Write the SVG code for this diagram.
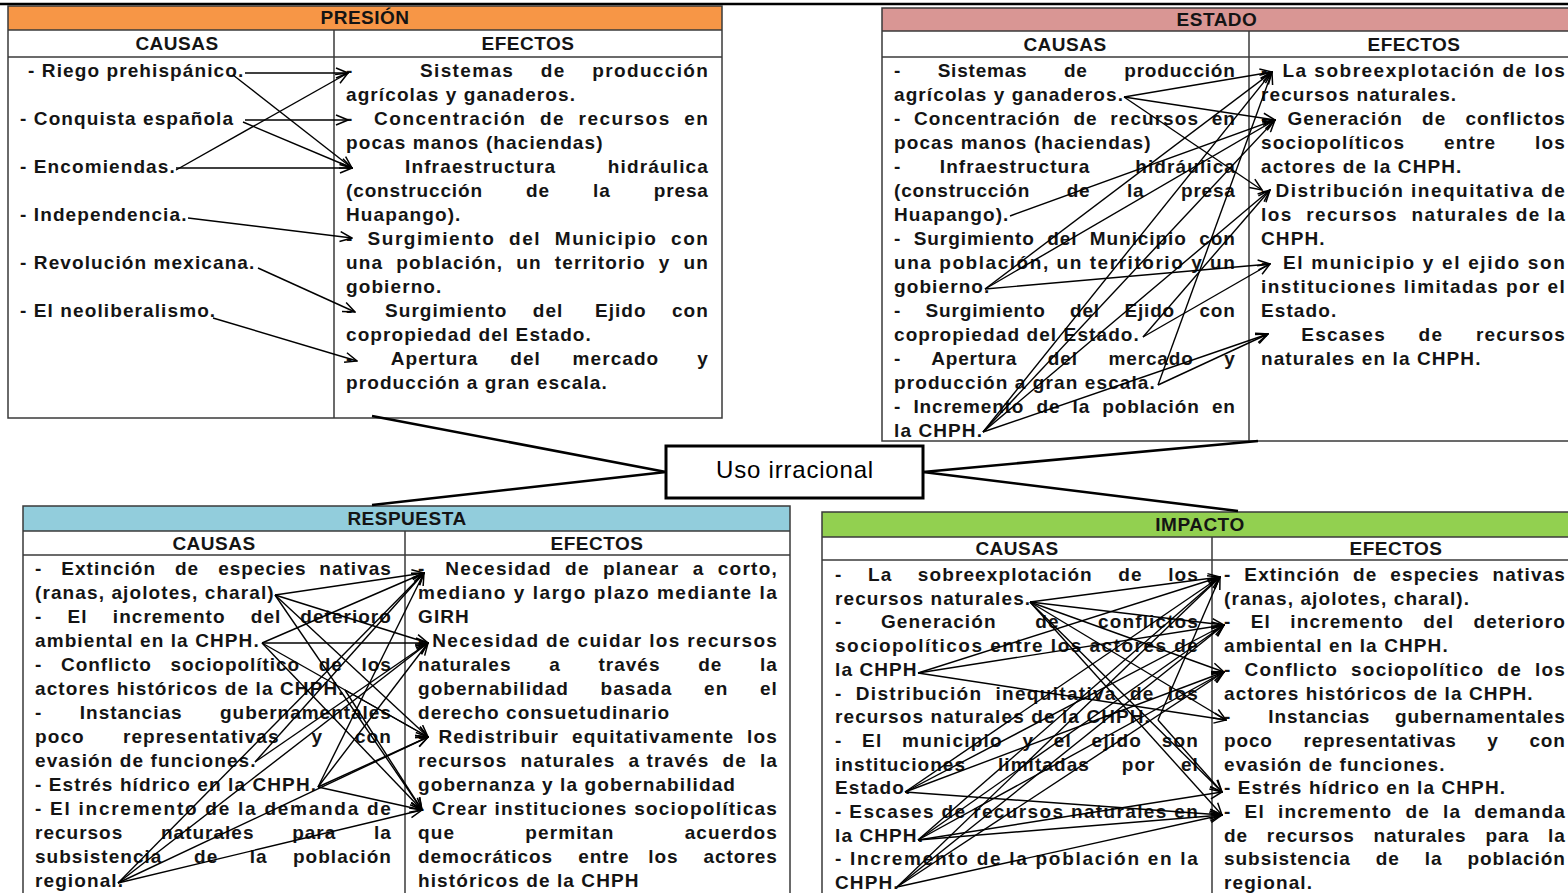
<svg xmlns="http://www.w3.org/2000/svg" width="1568" height="893" viewBox="0 0 1568 893">
<style>
.b{font-family:"Liberation Sans",Arial,sans-serif;font-weight:bold;font-size:19px;letter-spacing:1.1px;fill:#141414;white-space:pre}
.h{font-family:"Liberation Sans",Arial,sans-serif;font-weight:bold;font-size:19px;letter-spacing:0.5px;fill:#141414}
.bd{fill:none;stroke:#3a3a3a;stroke-width:1.5}
.ln{stroke:#3a3a3a;stroke-width:1.5}
.c{stroke:#000;stroke-width:1.4;fill:none;marker-end:url(#ah)}
.k{stroke:#000;stroke-width:2.6;fill:none}
</style>
<defs>
<marker id="ah" viewBox="0 0 14 12" refX="13" refY="6" markerWidth="14" markerHeight="12" markerUnits="userSpaceOnUse" orient="auto"><path d="M1,1 L13,6 L1,11" fill="none" stroke="#000" stroke-width="1.5"/></marker>
</defs>
<rect width="1568" height="893" fill="#fff"/>
<line x1="0" y1="4" x2="1568" y2="4" stroke="#000" stroke-width="2.5"/>

<g id="presion">
<rect x="8" y="6" width="714" height="24" fill="#F79646"/>
<rect x="8" y="6" width="714" height="412" class="bd"/>
<line x1="8" y1="30" x2="722" y2="30" class="ln"/>
<line x1="8" y1="57" x2="722" y2="57" class="ln"/>
<line x1="334" y1="30" x2="334" y2="418" class="ln"/>
<text class="h" x="365" y="24" text-anchor="middle">PRESIÓN</text>
<text class="h" x="177" y="50" text-anchor="middle">CAUSAS</text>
<text class="h" x="528" y="50" text-anchor="middle">EFECTOS</text>
<text class="b" x="28" y="77">- Riego prehispánico.</text>
<text class="b" x="20" y="125">- Conquista española</text>
<text class="b" x="20" y="173">- Encomiendas.</text>
<text class="b" x="20" y="221">- Independencia.</text>
<text class="b" x="20" y="269">- Revolución mexicana.</text>
<text class="b" x="20" y="317">- El neoliberalismo.</text>
<text class="b" xml:space="preserve" x="346" y="77" textLength="363" lengthAdjust="spacing">-          Sistemas    de    producción</text>
<text class="b" x="346" y="101">agrícolas y ganaderos.</text>
<text class="b" xml:space="preserve" x="346" y="125" textLength="363" lengthAdjust="spacing">-   Concentración  de  recursos  en</text>
<text class="b" x="346" y="149">pocas manos (haciendas)</text>
<text class="b" xml:space="preserve" x="346" y="173" textLength="363" lengthAdjust="spacing">-        Infraestructura        hidráulica</text>
<text class="b" xml:space="preserve" x="346" y="197" textLength="363" lengthAdjust="spacing">(construcción       de       la       presa</text>
<text class="b" x="346" y="221">Huapango).</text>
<text class="b" xml:space="preserve" x="346" y="245" textLength="363" lengthAdjust="spacing">-  Surgimiento  del  Municipio  con</text>
<text class="b" xml:space="preserve" x="346" y="269" textLength="363" lengthAdjust="spacing">una  población,  un  territorio  y  un</text>
<text class="b" x="346" y="293">gobierno.</text>
<text class="b" xml:space="preserve" x="346" y="317" textLength="363" lengthAdjust="spacing">-     Surgimiento    del     Ejido    con</text>
<text class="b" x="346" y="341">copropiedad del Estado.</text>
<text class="b" xml:space="preserve" x="346" y="365" textLength="363" lengthAdjust="spacing">-      Apertura     del     mercado      y</text>
<text class="b" x="346" y="389">producción a gran escala.</text>
</g>

<g id="estado">
<rect x="882" y="8" width="698" height="23" fill="#D99694"/>
<rect x="882" y="8" width="698" height="433" class="bd"/>
<line x1="882" y1="31" x2="1580" y2="31" class="ln"/>
<line x1="882" y1="57" x2="1580" y2="57" class="ln"/>
<line x1="1249" y1="31" x2="1249" y2="441" class="ln"/>
<text class="h" x="1217" y="26" text-anchor="middle">ESTADO</text>
<text class="h" x="1065" y="51" text-anchor="middle">CAUSAS</text>
<text class="h" x="1414" y="51" text-anchor="middle">EFECTOS</text>
<text class="b" xml:space="preserve" x="894" y="77" textLength="342" lengthAdjust="spacing">-      Sistemas      de      producción</text>
<text class="b" x="894" y="101">agrícolas y ganaderos.</text>
<text class="b" xml:space="preserve" x="894" y="125" textLength="342" lengthAdjust="spacing">-  Concentración  de  recursos  en</text>
<text class="b" x="894" y="149">pocas manos (haciendas)</text>
<text class="b" xml:space="preserve" x="894" y="173" textLength="342" lengthAdjust="spacing">-      Infraestructura       hidráulica</text>
<text class="b" xml:space="preserve" x="894" y="197" textLength="342" lengthAdjust="spacing">(construcción      de      la      presa</text>
<text class="b" x="894" y="221">Huapango).</text>
<text class="b" xml:space="preserve" x="894" y="245" textLength="342" lengthAdjust="spacing">-  Surgimiento  del  Municipio  con</text>
<text class="b" xml:space="preserve" x="894" y="269" textLength="342" lengthAdjust="spacing">una población, un territorio y un</text>
<text class="b" x="894" y="293">gobierno.</text>
<text class="b" xml:space="preserve" x="894" y="317" textLength="342" lengthAdjust="spacing">-    Surgimiento    del    Ejido    con</text>
<text class="b" x="894" y="341">copropiedad del Estado.</text>
<text class="b" xml:space="preserve" x="894" y="365" textLength="342" lengthAdjust="spacing">-     Apertura     del     mercado     y</text>
<text class="b" x="894" y="389">producción a gran escala.</text>
<text class="b" xml:space="preserve" x="894" y="413" textLength="342" lengthAdjust="spacing">-  Incremento  de  la  población  en</text>
<text class="b" x="894" y="437">la CHPH.</text>
<text class="b" xml:space="preserve" x="1261" y="77" textLength="305" lengthAdjust="spacing">-  La sobreexplotación de los</text>
<text class="b" x="1261" y="101">recursos naturales.</text>
<text class="b" xml:space="preserve" x="1261" y="125" textLength="305" lengthAdjust="spacing">-   Generación   de   conflictos</text>
<text class="b" xml:space="preserve" x="1261" y="149" textLength="305" lengthAdjust="spacing">sociopolíticos      entre      los</text>
<text class="b" x="1261" y="173">actores de la CHPH.</text>
<text class="b" xml:space="preserve" x="1261" y="197" textLength="305" lengthAdjust="spacing">- Distribución inequitativa de</text>
<text class="b" xml:space="preserve" x="1261" y="221" textLength="305" lengthAdjust="spacing">los  recursos  naturales de la</text>
<text class="b" x="1261" y="245">CHPH.</text>
<text class="b" xml:space="preserve" x="1261" y="269" textLength="305" lengthAdjust="spacing">-  El municipio y el ejido son</text>
<text class="b" xml:space="preserve" x="1261" y="293" textLength="305" lengthAdjust="spacing">instituciones limitadas por el</text>
<text class="b" x="1261" y="317">Estado.</text>
<text class="b" xml:space="preserve" x="1261" y="341" textLength="305" lengthAdjust="spacing">-     Escases     de     recursos</text>
<text class="b" x="1261" y="365">naturales en la CHPH.</text>
</g>

<g id="uso-irracional">
<rect x="666" y="446" width="257" height="52" fill="#fff" stroke="#000" stroke-width="3"/>
<text x="795" y="478" text-anchor="middle" font-family="Liberation Sans, Arial, sans-serif" font-size="24" letter-spacing="0.8" fill="#000">Uso irracional</text>
</g>

<g id="respuesta">
<rect x="23" y="506" width="767" height="25" fill="#92CDDC"/>
<rect x="23" y="506" width="767" height="400" class="bd"/>
<line x1="23" y1="531" x2="790" y2="531" class="ln"/>
<line x1="23" y1="555" x2="790" y2="555" class="ln"/>
<line x1="405" y1="531" x2="405" y2="900" class="ln"/>
<text class="h" x="407" y="525" text-anchor="middle">RESPUESTA</text>
<text class="h" x="214" y="550" text-anchor="middle">CAUSAS</text>
<text class="h" x="597" y="550" text-anchor="middle">EFECTOS</text>
<text class="b" xml:space="preserve" x="35" y="575" textLength="357" lengthAdjust="spacing">-   Extinción   de   especies  nativas</text>
<text class="b" x="35" y="599">(ranas, ajolotes, charal)</text>
<text class="b" xml:space="preserve" x="35" y="623" textLength="357" lengthAdjust="spacing">-    El    incremento    del   deterioro</text>
<text class="b" x="35" y="647">ambiental en la CHPH.</text>
<text class="b" xml:space="preserve" x="35" y="671" textLength="357" lengthAdjust="spacing">-   Conflicto   sociopolítico   de   los</text>
<text class="b" x="35" y="695">actores históricos de la CHPH.</text>
<text class="b" xml:space="preserve" x="35" y="719" textLength="357" lengthAdjust="spacing">-      Instancias      gubernamentales</text>
<text class="b" xml:space="preserve" x="35" y="743" textLength="357" lengthAdjust="spacing">poco      representativas     y     con</text>
<text class="b" x="35" y="767">evasión de funciones.</text>
<text class="b" x="35" y="791">- Estrés hídrico en la CHPH.</text>
<text class="b" xml:space="preserve" x="35" y="815" textLength="357" lengthAdjust="spacing">- El incremento de la demanda de</text>
<text class="b" xml:space="preserve" x="35" y="839" textLength="357" lengthAdjust="spacing">recursos      naturales      para      la</text>
<text class="b" xml:space="preserve" x="35" y="863" textLength="357" lengthAdjust="spacing">subsistencia     de     la    población</text>
<text class="b" x="35" y="887">regional.</text>
<text class="b" xml:space="preserve" x="418" y="575" textLength="360" lengthAdjust="spacing">-   Necesidad  de  planear  a  corto,</text>
<text class="b" xml:space="preserve" x="418" y="599" textLength="360" lengthAdjust="spacing">mediano y largo plazo mediante la</text>
<text class="b" x="418" y="623">GIRH</text>
<text class="b" xml:space="preserve" x="418" y="647" textLength="360" lengthAdjust="spacing">- Necesidad de cuidar los recursos</text>
<text class="b" xml:space="preserve" x="418" y="671" textLength="360" lengthAdjust="spacing">naturales      a      través      de      la</text>
<text class="b" xml:space="preserve" x="418" y="695" textLength="360" lengthAdjust="spacing">gobernabilidad     basada     en     el</text>
<text class="b" x="418" y="719">derecho consuetudinario</text>
<text class="b" xml:space="preserve" x="418" y="743" textLength="360" lengthAdjust="spacing">-  Redistribuir  equitativamente  los</text>
<text class="b" xml:space="preserve" x="418" y="767" textLength="360" lengthAdjust="spacing">recursos  naturales  a través  de  la</text>
<text class="b" x="418" y="791">gobernanza y la gobernabilidad</text>
<text class="b" xml:space="preserve" x="418" y="815" textLength="360" lengthAdjust="spacing">- Crear instituciones sociopolíticas</text>
<text class="b" xml:space="preserve" x="418" y="839" textLength="360" lengthAdjust="spacing">que           permitan           acuerdos</text>
<text class="b" xml:space="preserve" x="418" y="863" textLength="360" lengthAdjust="spacing">democráticos    entre   los    actores</text>
<text class="b" x="418" y="887">históricos de la CHPH</text>
</g>

<g id="impacto">
<rect x="822" y="512" width="758" height="25" fill="#92D050"/>
<rect x="822" y="512" width="758" height="400" class="bd"/>
<line x1="822" y1="537" x2="1580" y2="537" class="ln"/>
<line x1="822" y1="560" x2="1580" y2="560" class="ln"/>
<line x1="1212" y1="537" x2="1212" y2="900" class="ln"/>
<text class="h" x="1200" y="531" text-anchor="middle">IMPACTO</text>
<text class="h" x="1017" y="555" text-anchor="middle">CAUSAS</text>
<text class="h" x="1396" y="555" text-anchor="middle">EFECTOS</text>
<text class="b" xml:space="preserve" x="835" y="581" textLength="364" lengthAdjust="spacing">-    La    sobreexplotación    de    los</text>
<text class="b" x="835" y="604.7">recursos naturales.</text>
<text class="b" xml:space="preserve" x="835" y="628.4" textLength="364" lengthAdjust="spacing">-      Generación      de      conflictos</text>
<text class="b" xml:space="preserve" x="835" y="652.1" textLength="364" lengthAdjust="spacing">sociopolíticos entre los actores de</text>
<text class="b" x="835" y="675.8">la CHPH</text>
<text class="b" xml:space="preserve" x="835" y="699.5" textLength="364" lengthAdjust="spacing">-  Distribución  inequitativa  de  los</text>
<text class="b" x="835" y="723.2">recursos naturales de la CHPH.</text>
<text class="b" xml:space="preserve" x="835" y="746.9" textLength="364" lengthAdjust="spacing">-   El   municipio   y   el   ejido   son</text>
<text class="b" xml:space="preserve" x="835" y="770.6" textLength="364" lengthAdjust="spacing">instituciones     limitadas     por    el</text>
<text class="b" x="835" y="794.3">Estado.</text>
<text class="b" xml:space="preserve" x="835" y="818" textLength="364" lengthAdjust="spacing">- Escases de recursos naturales en</text>
<text class="b" x="835" y="841.7">la CHPH.</text>
<text class="b" xml:space="preserve" x="835" y="865.4" textLength="364" lengthAdjust="spacing">- Incremento de la población en la</text>
<text class="b" x="835" y="889">CHPH.</text>
<text class="b" xml:space="preserve" x="1224" y="581" textLength="342" lengthAdjust="spacing">-  Extinción  de  especies  nativas</text>
<text class="b" x="1224" y="604.7">(ranas, ajolotes, charal).</text>
<text class="b" xml:space="preserve" x="1224" y="628.4" textLength="342" lengthAdjust="spacing">-   El   incremento   del   deterioro</text>
<text class="b" x="1224" y="652.1">ambiental en la CHPH.</text>
<text class="b" xml:space="preserve" x="1224" y="675.8" textLength="342" lengthAdjust="spacing">-  Conflicto  sociopolítico  de  los</text>
<text class="b" x="1224" y="699.5">actores históricos de la CHPH.</text>
<text class="b" xml:space="preserve" x="1224" y="723.2" textLength="342" lengthAdjust="spacing">-      Instancias    gubernamentales</text>
<text class="b" xml:space="preserve" x="1224" y="746.9" textLength="342" lengthAdjust="spacing">poco     representativas     y     con</text>
<text class="b" x="1224" y="770.6">evasión de funciones.</text>
<text class="b" x="1224" y="794.3">- Estrés hídrico en la CHPH.</text>
<text class="b" xml:space="preserve" x="1224" y="818" textLength="342" lengthAdjust="spacing">-  El  incremento  de  la  demanda</text>
<text class="b" xml:space="preserve" x="1224" y="841.7" textLength="342" lengthAdjust="spacing">de   recursos   naturales   para   la</text>
<text class="b" xml:space="preserve" x="1224" y="865.4" textLength="342" lengthAdjust="spacing">subsistencia    de    la    población</text>
<text class="b" x="1224" y="889">regional.</text>
</g>

<g id="connectors">
<line class="k" x1="372" y1="416" x2="666" y2="472"/>
<line class="k" x1="666" y1="472" x2="372" y2="505"/>
<line class="k" x1="923" y1="472" x2="1258" y2="441"/>
<line class="k" x1="923" y1="472" x2="1238" y2="511"/>

<line class="c" x1="245" y1="73" x2="348" y2="73"/>
<line class="c" x1="233" y1="75" x2="352" y2="168"/>
<line class="c" x1="245" y1="120" x2="348" y2="120"/>
<line class="c" x1="243" y1="122" x2="352" y2="168"/>
<line class="c" x1="176" y1="170" x2="348" y2="73"/>
<line class="c" x1="176" y1="168" x2="352" y2="168"/>
<line class="c" x1="188" y1="218" x2="352" y2="238"/>
<line class="c" x1="258" y1="268" x2="355" y2="312"/>
<line class="c" x1="213" y1="318" x2="357" y2="361"/>

<line class="c" x1="1124" y1="97" x2="1272" y2="72"/>
<line class="c" x1="1124" y1="97" x2="1275" y2="120"/>
<line class="c" x1="1124" y1="97" x2="1262" y2="190"/>
<line class="c" x1="1010" y1="216" x2="1275" y2="120"/>
<line class="c" x1="985" y1="289" x2="1272" y2="72"/>
<line class="c" x1="985" y1="289" x2="1275" y2="120"/>
<line class="c" x1="985" y1="289" x2="1270" y2="264"/>
<line class="c" x1="1143" y1="337" x2="1270" y2="264"/>
<line class="c" x1="1143" y1="337" x2="1270" y2="190"/>
<line class="c" x1="1158" y1="385" x2="1268" y2="334"/>
<line class="c" x1="1158" y1="385" x2="1272" y2="72"/>
<line class="c" x1="983" y1="432" x2="1272" y2="72"/>
<line class="c" x1="983" y1="432" x2="1275" y2="120"/>
<line class="c" x1="983" y1="432" x2="1270" y2="190"/>
<line class="c" x1="983" y1="432" x2="1268" y2="334"/>

<line class="c" x1="275" y1="595" x2="424" y2="573"/>
<line class="c" x1="275" y1="595" x2="428" y2="643"/>
<line class="c" x1="275" y1="595" x2="428" y2="737"/>
<line class="c" x1="275" y1="595" x2="422" y2="810"/>
<line class="c" x1="262" y1="643" x2="424" y2="573"/>
<line class="c" x1="262" y1="643" x2="428" y2="643"/>
<line class="c" x1="262" y1="643" x2="428" y2="737"/>
<line class="c" x1="262" y1="643" x2="422" y2="810"/>
<line class="c" x1="345" y1="690" x2="428" y2="737"/>
<line class="c" x1="345" y1="690" x2="422" y2="810"/>
<line class="c" x1="255" y1="762" x2="424" y2="573"/>
<line class="c" x1="255" y1="762" x2="428" y2="643"/>
<line class="c" x1="318" y1="787" x2="424" y2="573"/>
<line class="c" x1="318" y1="787" x2="428" y2="643"/>
<line class="c" x1="318" y1="787" x2="428" y2="737"/>
<line class="c" x1="318" y1="787" x2="422" y2="810"/>
<line class="c" x1="118" y1="883" x2="424" y2="573"/>
<line class="c" x1="118" y1="883" x2="428" y2="643"/>
<line class="c" x1="118" y1="883" x2="428" y2="737"/>
<line class="c" x1="118" y1="883" x2="422" y2="810"/>

<line class="c" x1="1030" y1="602" x2="1220" y2="577"/>
<line class="c" x1="1030" y1="602" x2="1224" y2="625"/>
<line class="c" x1="1030" y1="602" x2="1224" y2="672"/>
<line class="c" x1="1030" y1="602" x2="1226" y2="720"/>
<line class="c" x1="1030" y1="602" x2="1222" y2="792"/>
<line class="c" x1="1030" y1="602" x2="1222" y2="815"/>
<line class="c" x1="918" y1="673" x2="1220" y2="577"/>
<line class="c" x1="918" y1="673" x2="1224" y2="625"/>
<line class="c" x1="918" y1="673" x2="1226" y2="720"/>
<line class="c" x1="1158" y1="720" x2="1220" y2="577"/>
<line class="c" x1="1158" y1="720" x2="1222" y2="792"/>
<line class="c" x1="905" y1="792" x2="1220" y2="577"/>
<line class="c" x1="905" y1="792" x2="1224" y2="625"/>
<line class="c" x1="905" y1="792" x2="1224" y2="672"/>
<line class="c" x1="905" y1="792" x2="1222" y2="815"/>
<line class="c" x1="918" y1="840" x2="1220" y2="577"/>
<line class="c" x1="918" y1="840" x2="1224" y2="625"/>
<line class="c" x1="918" y1="840" x2="1224" y2="672"/>
<line class="c" x1="918" y1="840" x2="1222" y2="792"/>
<line class="c" x1="918" y1="840" x2="1222" y2="815"/>
<line class="c" x1="897" y1="887" x2="1220" y2="577"/>
<line class="c" x1="897" y1="887" x2="1224" y2="625"/>
<line class="c" x1="897" y1="887" x2="1224" y2="672"/>
<line class="c" x1="897" y1="887" x2="1222" y2="815"/>
</g>
</svg>
